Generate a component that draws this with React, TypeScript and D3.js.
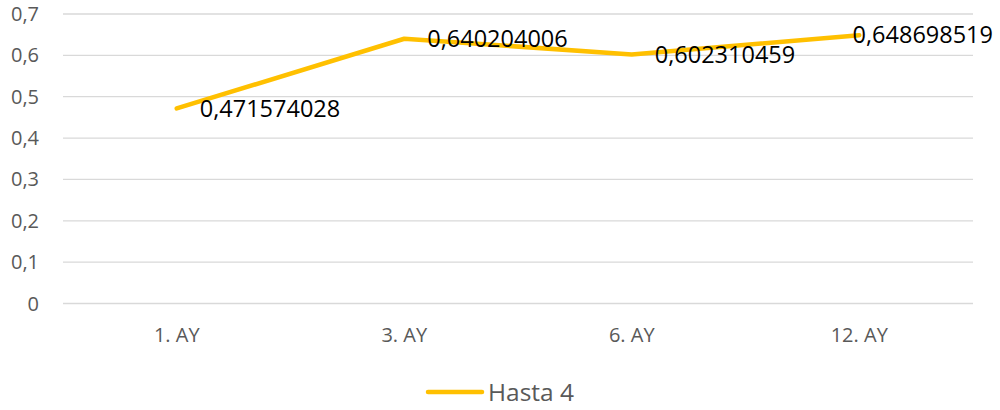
import * as d3 from "d3";
import React, { useEffect, useRef } from "react";

// values
const categories = ["1. AY", "3. AY", "6. AY", "12. AY"];
const hasta4 = [0.471574028, 0.640204006, 0.602310459, 0.648698519];
const yTicks = [0, 0.1, 0.2, 0.3, 0.4, 0.5, 0.6, 0.7];
const seriesName = "Hasta 4";

const width = 1000;
const height = 410;
const font = "'Open Sans', 'DejaVu Sans', sans-serif";

const App = () => {
    const ref = useRef<SVGSVGElement>(null);

    useEffect(() => {
        const svg = d3.select(ref.current);
        svg.selectAll("*").remove();

        const x = d3.scalePoint<string>().domain(categories).range([63, 973]).padding(0.5);
        const y = d3.scaleLinear().domain([0, 0.7]).range([303.5, 14]);
        const fmt = (v: number) => String(+v.toFixed(1)).replace(".", ",");

        // gridlines
        svg.append("g")
            .selectAll("line")
            .data(yTicks)
            .join("line")
            .attr("x1", 63)
            .attr("x2", 973)
            .attr("y1", d => y(d))
            .attr("y2", d => y(d))
            .attr("stroke", "#d9d9d9")
            .attr("stroke-width", 1.3);

        // y labels
        svg.append("g")
            .selectAll("text")
            .data(yTicks)
            .join("text")
            .attr("x", 39)
            .attr("y", d => y(d))
            .attr("dy", "0.35em")
            .attr("text-anchor", "end")
            .attr("font-family", font)
            .attr("font-size", 20)
            .attr("fill", "#595959")
            .text(fmt);

        // x labels
        svg.append("g")
            .selectAll("text")
            .data(categories)
            .join("text")
            .attr("x", d => x(d)!)
            .attr("y", 342)
            .attr("text-anchor", "middle")
            .attr("font-family", font)
            .attr("font-size", 20)
            .attr("fill", "#595959")
            .text(d => d);

        const line = d3.line<number>()
            .x((_, i) => x(categories[i])!)
            .y(d => y(d));

        svg.append("path")
            .attr("d", line(hasta4))
            .attr("fill", "none")
            .attr("stroke", "#ffc000")
            .attr("stroke-width", 4.5)
            .attr("stroke-linejoin", "round")
            .attr("stroke-linecap", "round");

        // data labels, right of the point, pulled back inside if they overflow
        const labels = svg.append("g")
            .selectAll("text")
            .data(hasta4)
            .join("text")
            .attr("y", d => y(d))
            .attr("dy", "0.35em")
            .attr("font-family", font)
            .attr("font-size", 23.5)
            .attr("fill", "#000")
            .text(d => String(d).replace(".", ","));
        labels.each(function (d, i) {
            const w = (this as SVGTextElement).getComputedTextLength();
            const px = x(categories[i])! + 23;
            d3.select(this).attr("x", Math.min(px, 993 - w));
        });

        // legend
        const lg = svg.append("g");
        lg.append("line")
            .attr("x1", 428)
            .attr("x2", 482)
            .attr("y1", 392)
            .attr("y2", 392)
            .attr("stroke", "#ffc000")
            .attr("stroke-width", 4.5)
            .attr("stroke-linecap", "round");
        lg.append("text")
            .attr("x", 488)
            .attr("y", 392)
            .attr("dy", "0.35em")
            .attr("font-family", font)
            .attr("font-size", 24.5)
            .attr("fill", "#595959")
            .text(seriesName);
    }, []);

    return (
        <svg
            ref={ref}
            width={width}
            height={height}
            style={{ position: "absolute", left: 0, top: 0, background: "#fff" }}
        />
    );
};

export default App;
